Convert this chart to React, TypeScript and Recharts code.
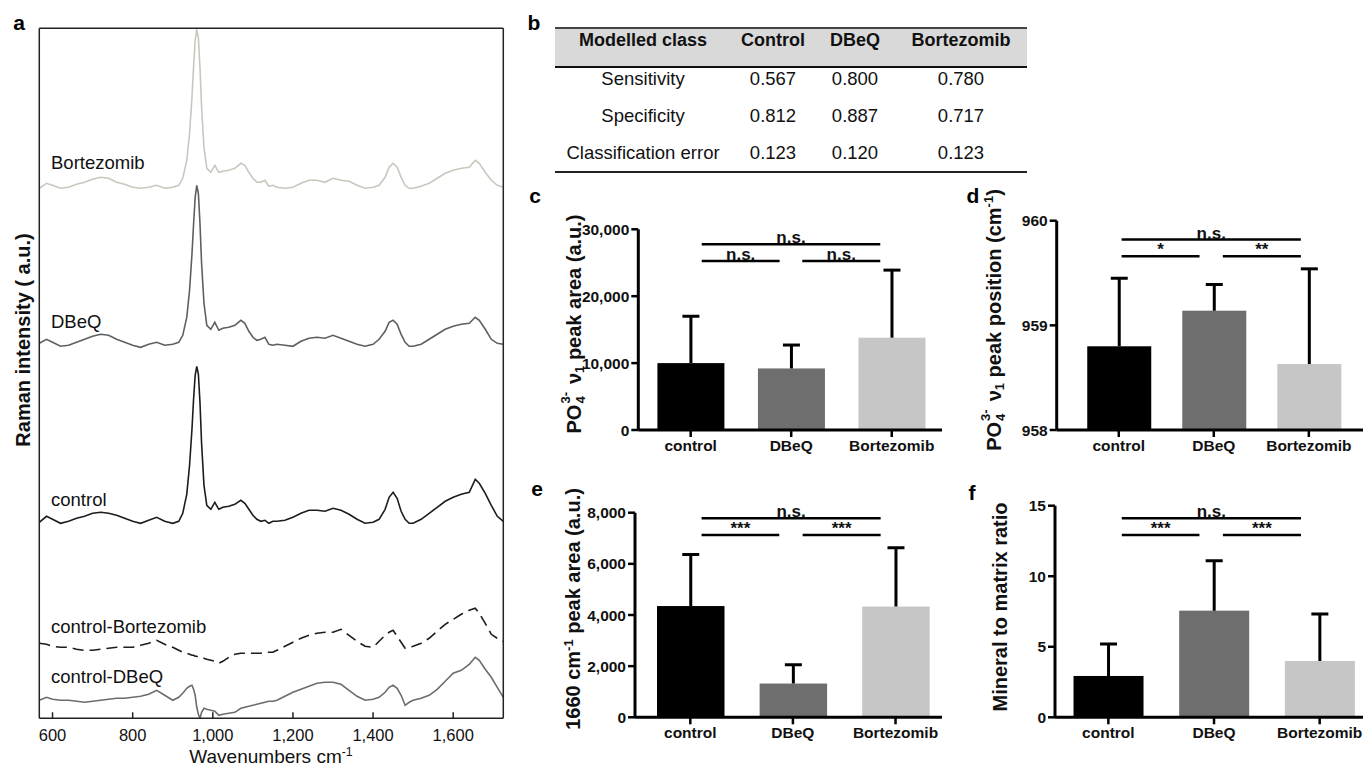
import React from "react";
import { LineChart, Line, XAxis, YAxis, BarChart, Bar, ReferenceLine } from "recharts";

const FONT = '"Liberation Sans", Arial, Helvetica, sans-serif';

// panel a – Raman spectra, intensity in a.u.
const wavenumbers = [
  567, 585, 600, 620, 640, 660, 680, 700, 720, 740,
  760, 780, 800, 820, 840, 860, 880, 900, 915, 925,
  935, 942, 948, 952, 956, 960, 964, 968, 972, 978,
  985, 995, 1005, 1015, 1025, 1040, 1055, 1070, 1080, 1090,
  1100, 1110, 1120, 1130, 1140, 1150, 1160, 1180, 1200, 1220,
  1240, 1260, 1280, 1300, 1320, 1340, 1360, 1380, 1400, 1415,
  1430, 1440, 1450, 1460, 1470, 1480, 1490, 1500, 1520, 1540,
  1560, 1580, 1600, 1620, 1640, 1655, 1665, 1680, 1695, 1710,
  1725,
];
const bortezomib = [
  509, 514, 512, 509, 510, 513, 515, 518, 520, 519,
  515, 513, 510, 509, 510, 512, 509, 510, 512, 519,
  537, 564, 600, 630, 657, 668, 660, 630, 590, 550,
  529, 525, 532, 525, 526, 527, 529, 534, 532, 525,
  519, 515, 515, 517, 511, 512, 510, 509, 510, 514,
  517, 517, 515, 519, 517, 516, 512, 509, 510, 512,
  520, 530, 534, 530, 520, 512, 509, 509, 511, 514,
  519, 524, 527, 529, 530, 537, 534, 525, 517, 512,
  510,
];
const dbeq = [
  354, 358, 355, 351, 352, 355, 358, 361, 363, 362,
  358, 355, 352, 350, 353, 355, 352, 353, 355, 362,
  380, 407, 443, 473, 500, 512, 504, 474, 434, 394,
  372, 368, 375, 367, 369, 370, 372, 377, 374, 366,
  360, 357, 358, 360, 353, 352, 353, 352, 351, 356,
  359, 360, 359, 362, 359, 356, 353, 351, 353, 358,
  366, 375, 377, 373, 363, 355, 351, 351, 353, 358,
  363, 368, 371, 373, 374, 380, 377, 368, 358, 354,
  353,
];
const control = [
  175, 181, 178, 174, 176, 179, 181, 184, 185, 184,
  182, 179, 176, 174, 177, 180, 176, 174, 176, 184,
  203, 232, 268, 298, 322, 331, 323, 295, 254, 212,
  192, 188, 195, 188, 190, 191, 193, 197, 194, 188,
  182, 178, 176, 177, 174, 176, 176, 177, 180, 184,
  187, 187, 186, 189, 187, 183, 178, 174, 175, 178,
  188, 200, 205, 199, 186, 178, 174, 174, 178, 184,
  190, 196, 200, 203, 205, 218, 214, 204, 192, 181,
  176,
];
const controlMinusBortezomib = [
  54, 53, 51, 50, 50, 48, 47, 47, 48, 49,
  50, 50, 50, 52, 54, 57, 53, 50, 47, 45,
  44, 43, 42, 42, 41, 41, 40, 40, 39, 39,
  38, 37, 36, 34, 36, 40, 43, 44, 44, 44,
  44, 44, 44, 45, 45, 45, 47, 51, 55, 59,
  62, 64, 65, 65, 68, 62, 56, 51, 50, 56,
  62, 65, 67, 61, 55, 49, 50, 51, 54, 59,
  66, 73, 78, 83, 87, 89, 84, 74, 63, 59,
  56,
];
const controlMinusDbeq = [
  -3, 0, -2, -3, -3, -4, -5, -4, -3, -2,
  -1, -1, 0, 1, 3, 7, 2, -3, 0, 4,
  9, 11, 12, 8, 2, -10, -17, -21, -15, -11,
  -12, -13, -14, -18, -17, -16, -15, -11, -10, -9,
  -8, -7, -6, -5, -4, -4, -3, 1, 5, 8,
  11, 14, 15, 15, 13, 7, 1, -3, -2, 0,
  5, 10, 12, 9, 2, -8, -5, -3, -1, 2,
  8, 16, 24, 27, 33, 40, 37, 28, 20, 10,
  0,
];
const wnTicks = [600, 800, 1000, 1200, 1400, 1600];

// panel b – PLS-DA model performance
const tableHeader = ["Modelled class", "Control", "DBeQ", "Bortezomib"];
const tableRows = [
  ["Sensitivity", "0.567", "0.800", "0.780"],
  ["Specificity", "0.812", "0.887", "0.717"],
  ["Classification error", "0.123", "0.120", "0.123"],
];

// panels c–f – mean and SD per group
const groups = ["control", "DBeQ", "Bortezomib"];
const peakAreaMean = [10000, 9200, 13800];
const peakAreaSd = [7000, 3500, 10100];
const peakPosMean = [958.8, 959.14, 958.63];
const peakPosSd = [0.65, 0.25, 0.91];
const amideMean = [4350, 1320, 4330];
const amideSd = [2020, 730, 2300];
const ratioMean = [2.93, 7.56, 3.99];
const ratioSd = [2.27, 3.54, 3.34];
// control vs DBeQ, DBeQ vs Bortezomib, control vs Bortezomib
const sigPeakArea = ["n.s.", "n.s.", "n.s."];
const sigPeakPos = ["*", "**", "n.s."];
const sigAmide = ["***", "***", "n.s."];
const sigRatio = ["***", "***", "n.s."];

const barFills = ["#000000", "#6e6e6e", "#c6c6c6"];

const spectra = wavenumbers.map((wn, i) => ({
  wn,
  bortezomib: bortezomib[i],
  dbeq: dbeq[i],
  control: control[i],
  cb: controlMinusBortezomib[i],
  cd: controlMinusDbeq[i],
}));

function VLabel({ x, y, children, size = 20 }: any) {
  return (
    <div
      style={{
        position: "absolute",
        left: x,
        top: y,
        transform: "translate(-50%, -50%) rotate(-90deg)",
        whiteSpace: "nowrap",
        fontFamily: FONT,
        fontWeight: 700,
        fontSize: size,
        lineHeight: "24px",
        color: "#111",
      }}
    >
      {children}
    </div>
  );
}

function Tag({ x, y, children, size = 18.5, weight = 400 }: any) {
  return (
    <div
      style={{
        position: "absolute",
        left: x,
        top: y,
        transform: "translateY(-50%)",
        whiteSpace: "nowrap",
        fontFamily: FONT,
        fontSize: size,
        fontWeight: weight,
        lineHeight: 1,
        color: "#111",
      }}
    >
      {children}
    </div>
  );
}

function Letter({ x, y, children }: any) {
  return (
    <div
      style={{
        position: "absolute",
        left: x,
        top: y,
        transform: "translate(-50%, -50%)",
        fontFamily: FONT,
        fontWeight: 700,
        fontSize: 21,
        lineHeight: 1,
        color: "#000",
      }}
    >
      {children}
    </div>
  );
}

const sup = { fontSize: "0.65em", verticalAlign: "0.55em", lineHeight: 0 };
const sub = { fontSize: "0.65em", verticalAlign: "-0.3em", lineHeight: 0 };

function Phosphate() {
  return (
    <>
      PO
      <span style={{ position: "relative", display: "inline-block", width: 15, height: 20 }}>
        <span style={{ position: "absolute", left: 1, top: -2, fontSize: 13, lineHeight: "13px" }}>3-</span>
        <span style={{ position: "absolute", left: 1, top: 13, fontSize: 13, lineHeight: "13px" }}>4</span>
      </span>{" "}
      ν<span style={sub}>1</span>
    </>
  );
}

function MeanSdBar(props: any) {
  const { x, y, width, height, index, payload, base } = props;
  const perUnit = height / (payload.mean - base);
  const top = y - payload.sd * perUnit;
  const cx = x + width / 2;
  return (
    <g>
      <rect x={x} y={y} width={width} height={height} fill={barFills[index]} />
      <line x1={cx} x2={cx} y1={y} y2={top} stroke="#000" strokeWidth={3} />
      <line x1={cx - 8.5} x2={cx + 8.5} y1={top} y2={top} stroke="#000" strokeWidth={3} />
    </g>
  );
}

function BarPanel({ box, margin, xDomain, barSize, yDomain, yTicks, means, sds, sig, ends, levels }: any) {
  const rows = groups.map((name, i) => ({ pos: i + 1, name, mean: means[i], sd: sds[i] }));
  const brackets = [
    { x1: ends[0], x2: ends[1], y: levels[0], text: sig[0] },
    { x1: ends[2], x2: ends[3], y: levels[0], text: sig[1] },
    { x1: ends[0], x2: ends[3], y: levels[1], text: sig[2] },
  ];
  const tickStyle = { fill: "#111", fontSize: 15.5, fontWeight: 700, fontFamily: FONT };
  return (
    <div style={{ position: "absolute", left: box[0], top: box[1] }}>
      <BarChart width={box[2]} height={box[3]} data={rows} margin={margin}>
        <XAxis
          type="number"
          dataKey="pos"
          domain={xDomain}
          allowDataOverflow
          ticks={[1, 2, 3]}
          tickFormatter={(v: number) => groups[v - 1]}
          height={30}
          tickSize={7}
          tickMargin={3}
          axisLine={{ stroke: "#000", strokeWidth: 3 }}
          tickLine={{ stroke: "#000", strokeWidth: 2.5 }}
          tick={tickStyle}
        />
        <YAxis
          type="number"
          domain={yDomain}
          allowDataOverflow
          ticks={yTicks}
          tickFormatter={(v: number) => v.toLocaleString("en-US")}
          width={60}
          tickSize={7}
          tickMargin={2}
          axisLine={{ stroke: "#000", strokeWidth: 3 }}
          tickLine={{ stroke: "#000", strokeWidth: 2.5 }}
          tick={tickStyle}
        />
        <Bar
          dataKey="mean"
          barSize={barSize}
          isAnimationActive={false}
          shape={(p: any) => <MeanSdBar {...p} base={yDomain[0]} />}
        />
        {brackets.map((b, i) => (
          <ReferenceLine
            key={i}
            segment={[
              { x: b.x1, y: b.y },
              { x: b.x2, y: b.y },
            ]}
            stroke="#000"
            strokeWidth={2.5}
            label={{ value: b.text, position: "top", offset: 1, fill: "#111", fontSize: 17, fontWeight: 700, fontFamily: FONT }}
          />
        ))}
      </BarChart>
    </div>
  );
}

export default function App() {
  const frame = { stroke: "#222", strokeWidth: 1.5 };
  return (
    <div
      style={{
        position: "absolute",
        left: 0,
        top: 0,
        width: 1363,
        height: 767,
        background: "#fff",
        overflow: "hidden",
        fontFamily: FONT,
      }}
    >
      {/* a */}
      <div style={{ position: "absolute", left: 0, top: 0 }}>
        <LineChart width={520} height={767} data={spectra} margin={{ top: 27.3, right: 15.7, bottom: 18.7, left: 38.3 }}>
          <XAxis
            xAxisId="b"
            type="number"
            dataKey="wn"
            domain={[567, 1725]}
            allowDataOverflow
            ticks={wnTicks}
            tickFormatter={(v: number) => v.toLocaleString("en-US")}
            height={30}
            tickSize={-6}
            tickMargin={16.8}
            axisLine={frame}
            tickLine={frame}
            tick={{ fill: "#111", fontSize: 16.5, fontFamily: FONT }}
          />
          <XAxis
            xAxisId="t"
            orientation="top"
            type="number"
            dataKey="wn"
            domain={[567, 1725]}
            allowDataOverflow
            ticks={wnTicks}
            height={1}
            tickSize={-6}
            tick={false}
            axisLine={frame}
            tickLine={frame}
          />
          <YAxis yAxisId="l" type="number" domain={[-21, 669]} allowDataOverflow width={1} tick={false} tickLine={false} axisLine={frame} />
          <YAxis yAxisId="r" orientation="right" type="number" domain={[-21, 669]} allowDataOverflow width={1} tick={false} tickLine={false} axisLine={frame} />
          <Line xAxisId="b" yAxisId="l" type="linear" dataKey="bortezomib" stroke="#c9c7bd" strokeWidth={1.6} dot={false} isAnimationActive={false} />
          <Line xAxisId="b" yAxisId="l" type="linear" dataKey="dbeq" stroke="#5f5f5f" strokeWidth={1.6} dot={false} isAnimationActive={false} />
          <Line xAxisId="b" yAxisId="l" type="linear" dataKey="control" stroke="#1c1c1c" strokeWidth={1.6} dot={false} isAnimationActive={false} />
          <Line xAxisId="b" yAxisId="l" type="linear" dataKey="cb" stroke="#1c1c1c" strokeWidth={1.6} strokeDasharray="11 6" dot={false} isAnimationActive={false} />
          <Line xAxisId="b" yAxisId="l" type="linear" dataKey="cd" stroke="#6c6c6c" strokeWidth={1.6} dot={false} isAnimationActive={false} />
        </LineChart>
      </div>
      <Tag x={51} y={163}>Bortezomib</Tag>
      <Tag x={51} y={322}>DBeQ</Tag>
      <Tag x={51} y={500}>control</Tag>
      <Tag x={51} y={627}>control-Bortezomib</Tag>
      <Tag x={51} y={677}>control-DBeQ</Tag>
      <VLabel x={23} y={340}>Raman intensity ( a.u.)</VLabel>
      <div
        style={{
          position: "absolute",
          left: 271,
          top: 756,
          transform: "translate(-50%, -50%)",
          whiteSpace: "nowrap",
          fontSize: 19,
          lineHeight: 1,
          color: "#111",
        }}
      >
        Wavenumbers cm<span style={sup}>-1</span>
      </div>

      {/* b */}
      <table
        style={{
          position: "absolute",
          left: 555,
          top: 27,
          width: 472,
          borderCollapse: "collapse",
          tableLayout: "fixed",
          fontFamily: FONT,
          fontSize: 18.5,
          color: "#111",
        }}
      >
        <colgroup>
          {[176, 84, 80, 132].map((w, i) => (
            <col key={i} style={{ width: w }} />
          ))}
        </colgroup>
        <thead>
          <tr style={{ background: "#d9d9d9", borderTop: "2px solid #444", borderBottom: "2.5px solid #111" }}>
            {tableHeader.map((h) => (
              <th key={h} style={{ height: 36, padding: "1px 0 0", verticalAlign: "top", fontSize: 18, fontWeight: 700, lineHeight: "20px" }}>
                {h}
              </th>
            ))}
          </tr>
        </thead>
        <tbody>
          {tableRows.map((r, ri) => (
            <tr key={ri} style={ri === tableRows.length - 1 ? { borderBottom: "2px solid #222" } : undefined}>
              {r.map((c, ci) => (
                <td
                  key={ci}
                  style={{
                    height: ri === tableRows.length - 1 ? 29 : 37,
                    padding: 0,
                    verticalAlign: "top",
                    textAlign: "center",
                    lineHeight: "22px",
                  }}
                >
                  {c}
                </td>
              ))}
            </tr>
          ))}
        </tbody>
      </table>

      {/* c–f */}
      <BarPanel
        box={[520, 190, 425, 270]}
        margin={{ top: 39.3, right: 3, bottom: 0, left: 58.3 }}
        xDomain={[0.479, 3.5]}
        barSize={67}
        yDomain={[0, 30000]}
        yTicks={[0, 10000, 20000, 30000]}
        means={peakAreaMean}
        sds={peakAreaSd}
        sig={sigPeakArea}
        ends={[1.11, 1.885, 2.11, 2.886]}
        levels={[25260, 27760]}
      />
      <BarPanel
        box={[940, 190, 423, 270]}
        margin={{ top: 30.7, right: 0, bottom: 0, left: 56.7 }}
        xDomain={[0.347, 3.57]}
        barSize={64}
        yDomain={[958, 960]}
        yTicks={[958, 959, 960]}
        means={peakPosMean}
        sds={peakPosSd}
        sig={sigPeakPos}
        ends={[1.03, 1.85, 2.095, 2.916]}
        levels={[959.66, 959.82]}
      />
      <BarPanel
        box={[520, 480, 425, 287]}
        margin={{ top: 32.7, right: 3, bottom: 19.7, left: 55 }}
        xDomain={[0.461, 3.453]}
        barSize={67.5}
        yDomain={[0, 8000]}
        yTicks={[0, 2000, 4000, 6000, 8000]}
        means={amideMean}
        sds={amideSd}
        sig={sigAmide}
        ends={[1.11, 1.867, 2.095, 2.855]}
        levels={[7128, 7781]}
      />
      <BarPanel
        box={[940, 480, 423, 287]}
        margin={{ top: 25.7, right: 0, bottom: 19.7, left: 55 }}
        xDomain={[0.495, 3.41]}
        barSize={70}
        yDomain={[0, 15]}
        yTicks={[0, 5, 10, 15]}
        means={ratioMean}
        sds={ratioSd}
        sig={sigRatio}
        ends={[1.127, 1.862, 2.084, 2.823]}
        levels={[12.93, 14.11]}
      />
      <VLabel x={573} y={324}>
        <Phosphate /> peak area (a.u.)
      </VLabel>
      <VLabel x={993} y={320}>
        <Phosphate /> peak position (cm<span style={sup}>-1</span>)
      </VLabel>
      <VLabel x={573} y={609}>
        1660 cm<span style={sup}>-1</span> peak area (a.u.)
      </VLabel>
      <VLabel x={1000} y={607}>Mineral to matrix ratio</VLabel>

      <Letter x={19} y={22}>a</Letter>
      <Letter x={534} y={22}>b</Letter>
      <Letter x={535} y={195}>c</Letter>
      <Letter x={973} y={195}>d</Letter>
      <Letter x={537} y={488}>e</Letter>
      <Letter x={972} y={492}>f</Letter>
    </div>
  );
}
